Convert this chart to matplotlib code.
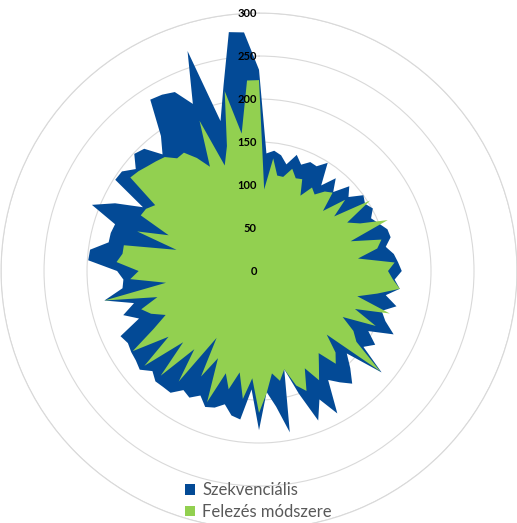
import numpy as np
import matplotlib.pyplot as plt
from matplotlib.patches import Patch

# values clockwise from the top, 100 categories
szekvencialis = [
    234, 137, 141, 137, 128, 142, 133, 140, 139, 149,
    123, 140, 126, 144, 135, 150, 146, 151, 144, 150,
    157, 158, 150, 158, 162, 166, 158, 165, 150, 165,
    150, 158, 173, 145, 160, 150, 185, 140, 155, 170,
    160, 150, 189, 165, 187, 150, 118, 191, 159, 141,
    185, 138, 174, 171, 160, 167, 170, 160, 168, 164,
    175, 175, 176, 170, 180, 177, 176, 174, 178, 150,
    166, 150, 183, 160, 158, 165, 199, 198, 178, 178,
    176, 209, 185, 154, 198, 197, 186, 199, 195, 176,
    194, 236, 234, 230, 209, 269, 180, 220, 280, 278,
]
felezes = [
    222, 95, 132, 113, 113, 125, 116, 118, 100, 115,
    110, 120, 125, 102, 130, 108, 153, 117, 130, 161,
    112, 147, 140, 116, 158, 150, 156, 165, 140, 118,
    160, 120, 150, 111, 130, 140, 183, 108, 130, 140,
    118, 130, 145, 125, 150, 140, 118, 130, 120, 142,
    165, 125, 150, 120, 142, 125, 164, 112, 140, 92,
    159, 118, 167, 121, 173, 130, 174, 140, 120, 135,
    144, 122, 183, 109, 150, 140, 166, 160, 160, 99,
    149, 113, 152, 150, 143, 185, 182, 178, 175, 172,
    162, 163, 150, 134, 188, 129, 150, 213, 161, 222,
]
series_names = ["Szekvenciális", "Felezés módszere"]
colors = ["#034A96", "#92D050"]
r_ticks = [0, 50, 100, 150, 200, 250, 300]

n = len(szekvencialis)
theta = np.linspace(0, 2 * np.pi, n, endpoint=False)
theta_c = np.append(theta, theta[0])

fig = plt.figure(figsize=(5.17, 5.23), dpi=100)
ax = fig.add_axes([0.002, -0.0115, 0.998, 0.9866], projection="polar")
ax.set_theta_zero_location("N")
ax.set_theta_direction(-1)
ax.set_axisbelow(True)

for vals, col in zip([szekvencialis, felezes], colors):
    v = np.append(vals, vals[0])
    ax.fill(theta_c, v, color=col, linewidth=0, zorder=2)

ax.set_ylim(0, 300)
ax.set_yticks(r_ticks[1:])
ax.set_yticklabels([])
ax.set_xticks([])
ax.yaxis.grid(True, color="#D9D9D9", linewidth=0.8)
ax.spines["polar"].set_color("#D9D9D9")
ax.spines["polar"].set_linewidth(0.8)

for r in r_ticks:
    ax.annotate(str(r), xy=(0, r), xytext=(-1.5, 0), textcoords="offset points",
                ha="right", va="center", fontsize=8, fontweight="bold",
                family="Lato", color="#000000", zorder=5)

handles = [Patch(facecolor=c, edgecolor="none") for c in colors]
fig.legend(handles, series_names, loc="center", bbox_to_anchor=(0.5, 0.042),
           frameon=False, handlelength=0.6, handleheight=0.6, handletextpad=0.4,
           labelspacing=0.35, prop={"family": "Lato", "size": 12}, labelcolor="#595959")

fig.savefig("out.png", dpi=100)
